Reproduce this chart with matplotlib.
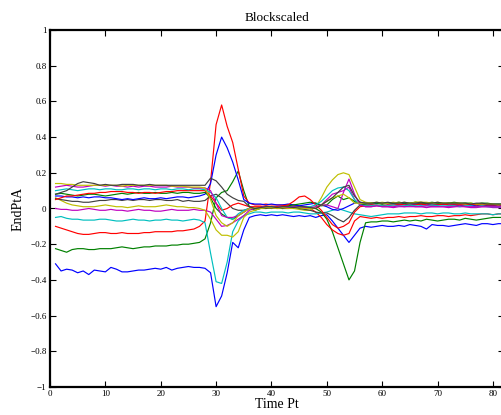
import matplotlib
matplotlib.use("Agg")
import matplotlib.pyplot as plt
from matplotlib.ticker import FuncFormatter

time_pt = list(range(1, 83))

blue_low = ([-0.31, -0.35, -0.34, -0.345, -0.36, -0.35, -0.37, -0.345, -0.35, -0.355, -0.33, -0.34, -0.355, -0.355,
             -0.35, -0.345, -0.345, -0.34, -0.335, -0.34, -0.33, -0.345, -0.335, -0.33, -0.325, -0.33, -0.33, -0.335]
            + [-0.36, -0.55, -0.49, -0.36, -0.19, -0.22, -0.12, -0.05]
            + [-0.04, -0.035, -0.04, -0.035, -0.04, -0.035, -0.04, -0.045, -0.04, -0.045, -0.04]
            + [-0.05, -0.04, -0.035, -0.07, -0.11, -0.15, -0.19, -0.15, -0.11]
            + [-0.10, -0.105, -0.10, -0.095, -0.10, -0.10, -0.095, -0.10, -0.09, -0.095, -0.10, -0.115, -0.09,
               -0.095, -0.095, -0.10, -0.095, -0.09, -0.085, -0.09, -0.095, -0.085, -0.085, -0.09, -0.085, -0.085])

green_low = ([-0.225, -0.235, -0.245, -0.23, -0.225, -0.225, -0.23, -0.23, -0.225, -0.225, -0.225, -0.22, -0.215, -0.22,
              -0.225, -0.22, -0.215, -0.215, -0.21, -0.21, -0.21, -0.205, -0.205, -0.20, -0.20, -0.195, -0.19, -0.17]
             + [-0.08, 0.06, 0.09, 0.10, 0.15, 0.21, 0.10, 0.01]
             + [-0.01, 0.0, 0.005, 0.0, 0.005, 0.0, 0.005, 0.01, 0.005, 0.0, 0.005]
             + [0.0, -0.02, -0.06, -0.13, -0.22, -0.31, -0.40, -0.35, -0.19]
             + [-0.08, -0.075, -0.075, -0.07, -0.07, -0.075, -0.07, -0.065, -0.07, -0.065, -0.07, -0.06, -0.065,
                -0.07, -0.065, -0.06, -0.06, -0.065, -0.055, -0.06, -0.065, -0.06, -0.055, -0.05, -0.05, -0.05])

red_low = ([-0.10, -0.11, -0.12, -0.13, -0.14, -0.145, -0.145, -0.14, -0.135, -0.135, -0.14, -0.14, -0.135, -0.14,
            -0.14, -0.14, -0.135, -0.135, -0.13, -0.13, -0.13, -0.13, -0.125, -0.125, -0.12, -0.115, -0.10, -0.07]
           + [0.15, 0.47, 0.58, 0.46, 0.37, 0.22, 0.07, 0.03]
           + [0.02, 0.02, 0.025, 0.02, 0.02, 0.02, 0.02, 0.02, 0.015, 0.01, 0.0]
           + [-0.02, -0.05, -0.09, -0.12, -0.14, -0.15, -0.14, -0.07, -0.045]
           + [-0.05, -0.055, -0.05, -0.055, -0.05, -0.05, -0.045, -0.05, -0.045, -0.045, -0.04, -0.045, -0.045,
              -0.04, -0.04, -0.045, -0.04, -0.04, -0.035, -0.04, -0.035, -0.03, -0.03, -0.035, -0.03, -0.03])

cyan_low = ([-0.05, -0.045, -0.055, -0.06, -0.06, -0.065, -0.065, -0.065, -0.06, -0.06, -0.065, -0.07, -0.07, -0.065,
             -0.06, -0.065, -0.065, -0.07, -0.065, -0.065, -0.06, -0.065, -0.065, -0.07, -0.065, -0.06, -0.065, -0.08]
            + [-0.25, -0.41, -0.42, -0.30, -0.13, -0.07, -0.04, -0.03]
            + [-0.02, -0.02, -0.025, -0.02, -0.02, -0.02, -0.025, -0.02, -0.02, -0.025, -0.03]
            + [-0.03, -0.025, -0.02, -0.01, 0.0, -0.01, -0.02, -0.03, -0.035]
            + [-0.04, -0.045, -0.04, -0.035, -0.03, -0.03, -0.03, -0.025, -0.025, -0.025, -0.03, -0.025, -0.025,
               -0.03, -0.025, -0.025, -0.03, -0.03, -0.025, -0.03, -0.03, -0.03, -0.03, -0.035, -0.03, -0.03])

magenta_low = ([0.0, -0.005, -0.005, -0.01, -0.01, -0.005, 0.0, -0.005, -0.01, -0.01, -0.005, -0.01, -0.01, -0.015,
                -0.01, -0.005, -0.01, -0.01, -0.015, -0.015, -0.01, -0.005, -0.01, -0.01, -0.01, -0.005, -0.01, -0.01]
               + [-0.02, -0.06, -0.10, -0.095, -0.08, -0.06, -0.04, -0.01]
               + [0.0, 0.005, 0.01, 0.005, 0.01, 0.005, 0.01, 0.01, 0.005, 0.01, 0.005]
               + [0.0, 0.02, 0.05, 0.08, 0.09, 0.10, 0.12, 0.05, 0.02]
               + [0.01, 0.01, 0.015, 0.01, 0.01, 0.005, 0.01, 0.01, 0.015, 0.01, 0.01, 0.005, 0.01,
                  0.01, 0.01, 0.005, 0.01, 0.01, 0.01, 0.005, 0.005, 0.01, 0.01, 0.005, 0.005, 0.005])

yellow_low = ([0.06, 0.045, 0.03, 0.02, 0.015, 0.01, 0.01, 0.01, 0.015, 0.02, 0.015, 0.01, 0.01, 0.005,
               0.01, 0.015, 0.01, 0.01, 0.01, 0.015, 0.02, 0.015, 0.01, 0.01, 0.005, 0.005, 0.0, -0.01]
              + [-0.06, -0.12, -0.15, -0.15, -0.16, -0.13, -0.05, -0.02]
              + [-0.01, 0.0, 0.0, 0.005, 0.0, 0.0, 0.005, 0.0, -0.005, -0.01, -0.01]
              + [0.01, 0.06, 0.12, 0.16, 0.19, 0.20, 0.19, 0.12, 0.05]
              + [0.035, 0.03, 0.03, 0.035, 0.03, 0.03, 0.035, 0.03, 0.03, 0.035, 0.035, 0.03, 0.03,
                 0.03, 0.025, 0.03, 0.025, 0.025, 0.03, 0.025, 0.025, 0.02, 0.025, 0.02, 0.02, 0.02])

gray_low = ([0.055, 0.05, 0.045, 0.04, 0.04, 0.035, 0.035, 0.04, 0.045, 0.045, 0.05, 0.05, 0.045, 0.05,
             0.045, 0.05, 0.05, 0.045, 0.05, 0.05, 0.045, 0.045, 0.05, 0.04, 0.045, 0.04, 0.04, 0.045]
            + [0.07, 0.08, 0.06, 0.03, 0.0, -0.01, -0.01, 0.0]
            + [0.0, 0.005, 0.0, 0.005, 0.005, 0.0, 0.0, 0.005, 0.0, -0.005, -0.01]
            + [-0.02, -0.025, -0.025, -0.04, -0.06, -0.075, -0.05, -0.01, 0.02]
            + [0.025, 0.025, 0.03, 0.025, 0.03, 0.025, 0.025, 0.03, 0.025, 0.025, 0.03, 0.03, 0.025,
               0.025, 0.025, 0.03, 0.025, 0.025, 0.025, 0.02, 0.025, 0.025, 0.02, 0.02, 0.02, 0.02])

blue_high = ([0.07, 0.07, 0.065, 0.065, 0.06, 0.065, 0.06, 0.065, 0.065, 0.06, 0.06, 0.055, 0.05, 0.055,
              0.05, 0.055, 0.06, 0.055, 0.055, 0.06, 0.055, 0.06, 0.065, 0.065, 0.06, 0.065, 0.07, 0.08]
             + [0.14, 0.30, 0.40, 0.34, 0.26, 0.16, 0.05, 0.03]
             + [0.025, 0.025, 0.02, 0.025, 0.02, 0.02, 0.025, 0.02, 0.015, 0.02, 0.025]
             + [0.03, 0.02, 0.01, -0.005, -0.01, 0.0, 0.015, 0.03, 0.035]
             + [0.03, 0.025, 0.03, 0.03, 0.025, 0.03, 0.025, 0.025, 0.02, 0.025, 0.02, 0.025, 0.02,
                0.02, 0.025, 0.02, 0.02, 0.015, 0.02, 0.02, 0.015, 0.02, 0.015, 0.015, 0.015, 0.015])

green_high = ([0.08, 0.085, 0.08, 0.075, 0.07, 0.075, 0.08, 0.08, 0.075, 0.07, 0.075, 0.08, 0.085, 0.08,
               0.085, 0.09, 0.085, 0.085, 0.09, 0.085, 0.085, 0.09, 0.085, 0.09, 0.09, 0.085, 0.085, 0.09]
              + [0.06, 0.0, -0.03, -0.05, -0.06, -0.04, -0.02, 0.0]
              + [0.0, 0.005, 0.005, 0.01, 0.01, 0.01, 0.015, 0.02, 0.025, 0.03, 0.035]
              + [0.03, 0.015, 0.02, 0.05, 0.07, 0.05, 0.06, 0.04, 0.025]
              + [0.025, 0.03, 0.03, 0.025, 0.03, 0.03, 0.035, 0.03, 0.03, 0.035, 0.03, 0.03, 0.035,
                 0.03, 0.03, 0.03, 0.035, 0.03, 0.03, 0.03, 0.025, 0.03, 0.03, 0.025, 0.025, 0.025])

red_high = ([0.05, 0.06, 0.07, 0.07, 0.075, 0.08, 0.085, 0.085, 0.09, 0.09, 0.095, 0.095, 0.095, 0.09,
             0.09, 0.085, 0.09, 0.09, 0.085, 0.09, 0.095, 0.095, 0.10, 0.10, 0.10, 0.10, 0.10, 0.10]
            + [0.07, 0.03, -0.01, 0.0, 0.02, 0.03, 0.02, 0.01]
            + [0.01, 0.01, 0.015, 0.01, 0.01, 0.015, 0.02, 0.04, 0.065, 0.07, 0.05]
            + [0.02, -0.01, -0.05, -0.09, -0.11, -0.10, -0.08, -0.02, 0.01]
            + [0.015, 0.02, 0.02, 0.015, 0.02, 0.02, 0.025, 0.02, 0.02, 0.02, 0.025, 0.02, 0.02,
               0.02, 0.025, 0.02, 0.02, 0.02, 0.02, 0.025, 0.02, 0.02, 0.02, 0.02, 0.02, 0.02])

cyan_high = ([0.10, 0.105, 0.11, 0.105, 0.10, 0.105, 0.11, 0.11, 0.105, 0.11, 0.11, 0.105, 0.105, 0.11,
              0.11, 0.105, 0.11, 0.11, 0.105, 0.11, 0.11, 0.105, 0.11, 0.11, 0.105, 0.11, 0.11, 0.105]
             + [0.09, 0.06, 0.0, -0.05, -0.06, -0.03, -0.01, 0.0]
             + [0.005, 0.005, 0.01, 0.01, 0.005, 0.01, 0.01, 0.005, 0.005, 0.01, 0.01]
             + [0.02, 0.04, 0.07, 0.10, 0.115, 0.12, 0.10, 0.05, 0.02]
             + [0.015, 0.015, 0.02, 0.015, 0.015, 0.02, 0.015, 0.015, 0.02, 0.015, 0.015, 0.015, 0.02,
                0.015, 0.015, 0.015, 0.015, 0.01, 0.015, 0.015, 0.01, 0.015, 0.01, 0.01, 0.01, 0.01])

magenta_high = ([0.12, 0.125, 0.13, 0.125, 0.12, 0.12, 0.125, 0.13, 0.13, 0.125, 0.13, 0.125, 0.125, 0.12,
                 0.125, 0.12, 0.125, 0.125, 0.12, 0.12, 0.12, 0.125, 0.12, 0.12, 0.12, 0.115, 0.115, 0.115]
                + [0.10, 0.03, -0.04, -0.05, -0.05, -0.04, -0.02, 0.0]
                + [0.005, 0.005, 0.01, 0.005, 0.005, 0.01, 0.005, 0.005, 0.01, 0.005, 0.005]
                + [0.01, 0.02, 0.02, 0.01, 0.0, 0.09, 0.165, 0.08, 0.02]
                + [0.01, 0.01, 0.015, 0.01, 0.01, 0.01, 0.015, 0.01, 0.01, 0.01, 0.01, 0.015, 0.01,
                   0.01, 0.01, 0.01, 0.01, 0.015, 0.01, 0.01, 0.01, 0.01, 0.01, 0.01, 0.01, 0.01])

yellow_high = ([0.14, 0.14, 0.135, 0.135, 0.13, 0.13, 0.13, 0.13, 0.13, 0.13, 0.13, 0.13, 0.125, 0.13,
                0.13, 0.13, 0.13, 0.13, 0.13, 0.13, 0.13, 0.125, 0.125, 0.125, 0.12, 0.12, 0.12, 0.115]
               + [0.05, -0.04, -0.08, -0.10, -0.08, -0.04, -0.02, 0.0]
               + [0.005, 0.0, 0.005, 0.005, 0.0, 0.005, 0.0, 0.0, 0.005, 0.0, 0.0]
               + [0.0, 0.02, 0.04, 0.06, 0.07, 0.08, 0.06, 0.03, 0.03]
               + [0.03, 0.03, 0.035, 0.03, 0.03, 0.035, 0.03, 0.035, 0.03, 0.035, 0.035, 0.035, 0.03,
                  0.035, 0.03, 0.03, 0.03, 0.03, 0.025, 0.03, 0.025, 0.025, 0.025, 0.025, 0.02, 0.025])

gray_high = ([0.08, 0.09, 0.10, 0.12, 0.14, 0.15, 0.145, 0.14, 0.13, 0.135, 0.13, 0.13, 0.135, 0.135,
              0.135, 0.13, 0.13, 0.135, 0.13, 0.13, 0.13, 0.13, 0.13, 0.13, 0.13, 0.13, 0.13, 0.13]
             + [0.17, 0.155, 0.12, 0.08, 0.06, 0.045, 0.04, 0.01]
             + [0.0, 0.005, 0.01, 0.01, 0.005, 0.01, 0.01, 0.005, 0.01, 0.01, 0.005]
             + [0.0, 0.02, 0.04, 0.06, 0.09, 0.12, 0.13, 0.07, 0.035]
             + [0.03, 0.03, 0.035, 0.03, 0.035, 0.03, 0.03, 0.035, 0.03, 0.03, 0.035, 0.03, 0.03,
                0.035, 0.03, 0.03, 0.03, 0.03, 0.03, 0.025, 0.03, 0.03, 0.025, 0.025, 0.025, 0.025])

series = [blue_low, green_low, red_low, cyan_low, magenta_low, yellow_low, gray_low,
          blue_high, green_high, red_high, cyan_high, magenta_high, yellow_high, gray_high]

x_ticks = [0, 10, 20, 30, 40, 50, 60, 70, 80]
y_ticks = [-1, -0.8, -0.6, -0.4, -0.2, 0, 0.2, 0.4, 0.6, 0.8, 1]

colors = [(0, 0, 1), (0, 0.5, 0), (1, 0, 0), (0, 0.75, 0.75), (0.75, 0, 0.75),
          (0.75, 0.75, 0), (0.25, 0.25, 0.25)]

plt.rcParams['font.family'] = ['Liberation Serif', 'DejaVu Serif']
plt.rcParams['axes.unicode_minus'] = True

fig = plt.figure(figsize=(5.01, 4.15), dpi=100)
ax = fig.add_axes([50 / 501, 28 / 415, 454 / 501, 357 / 415])

for i, s in enumerate(series):
    ax.plot(time_pt, s, color=colors[i % len(colors)], lw=0.85)

ax.set_xlim(0, 82)
ax.set_ylim(-1, 1)
ax.set_xticks(x_ticks)
ax.set_yticks(y_ticks)


def fmt(v, pos):
    s = '%g' % round(v, 6)
    return s.replace('-', '\u2212')


ax.xaxis.set_major_formatter(FuncFormatter(fmt))
ax.yaxis.set_major_formatter(FuncFormatter(fmt))
ax.tick_params(direction='in', length=4.5, width=0.8, labelsize=6.5, top=True, right=True, pad=2.5)
for sp in ax.spines.values():
    sp.set_linewidth(1.6)

ax.set_title('Blockscaled', fontsize=9.5, pad=6.5)
ax.set_xlabel('Time Pt', fontsize=10, labelpad=0)
ax.set_ylabel('EndPtA', fontsize=10, labelpad=4)

fig.savefig('out.png', dpi=100)
